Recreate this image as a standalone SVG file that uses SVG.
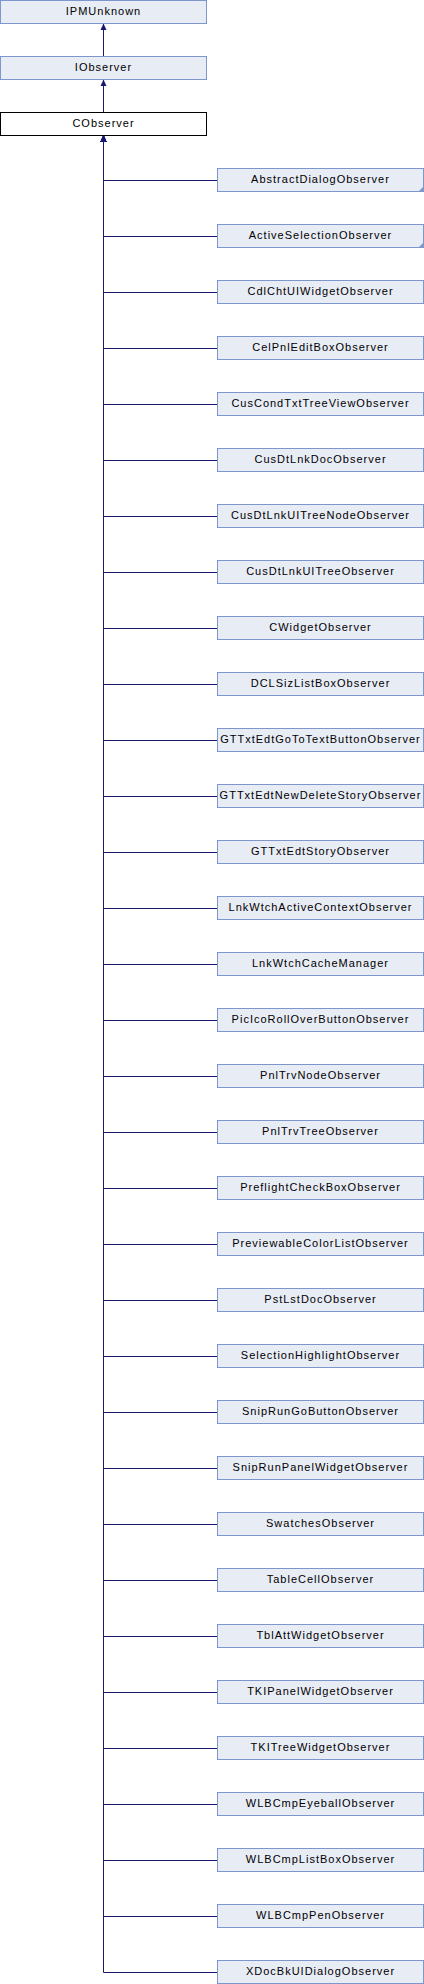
<svg xmlns="http://www.w3.org/2000/svg" width="424" height="1984" viewBox="0 0 424 1984">
<style>
.n rect{fill:#e8ecf5;stroke:#7d96cc;stroke-width:1}
.cur rect{fill:#ffffff;stroke:#000000;stroke-width:1}
text{font-family:"Liberation Sans",Arial,sans-serif;font-size:11px;letter-spacing:1px;fill:#000000;text-anchor:middle}
.e path{fill:none;stroke:#191970;stroke-width:1;marker-end:url(#ah)}
.cm{fill:#7d96cc;stroke:none}
</style>
<defs>
<marker id="ah" markerUnits="userSpaceOnUse" markerWidth="7" markerHeight="7" viewBox="0 0 7 7" refX="6.5" refY="3.5" orient="auto">
<path d="M0,0.5 L6.5,3.5 L0,6.5 z" fill="#191970"/>
</marker>
</defs>
<g id="connectors" class="e">
<path d="M103.5,56.5 V23.5"/>
<path d="M103.5,112.5 V79.5"/>
<path d="M217.5,180.5 H103.5 V135.5"/>
<path d="M217.5,236.5 H103.5 V135.5"/>
<path d="M217.5,292.5 H103.5 V135.5"/>
<path d="M217.5,348.5 H103.5 V135.5"/>
<path d="M217.5,404.5 H103.5 V135.5"/>
<path d="M217.5,460.5 H103.5 V135.5"/>
<path d="M217.5,516.5 H103.5 V135.5"/>
<path d="M217.5,572.5 H103.5 V135.5"/>
<path d="M217.5,628.5 H103.5 V135.5"/>
<path d="M217.5,684.5 H103.5 V135.5"/>
<path d="M217.5,740.5 H103.5 V135.5"/>
<path d="M217.5,796.5 H103.5 V135.5"/>
<path d="M217.5,852.5 H103.5 V135.5"/>
<path d="M217.5,908.5 H103.5 V135.5"/>
<path d="M217.5,964.5 H103.5 V135.5"/>
<path d="M217.5,1020.5 H103.5 V135.5"/>
<path d="M217.5,1076.5 H103.5 V135.5"/>
<path d="M217.5,1132.5 H103.5 V135.5"/>
<path d="M217.5,1188.5 H103.5 V135.5"/>
<path d="M217.5,1244.5 H103.5 V135.5"/>
<path d="M217.5,1300.5 H103.5 V135.5"/>
<path d="M217.5,1356.5 H103.5 V135.5"/>
<path d="M217.5,1412.5 H103.5 V135.5"/>
<path d="M217.5,1468.5 H103.5 V135.5"/>
<path d="M217.5,1524.5 H103.5 V135.5"/>
<path d="M217.5,1580.5 H103.5 V135.5"/>
<path d="M217.5,1636.5 H103.5 V135.5"/>
<path d="M217.5,1692.5 H103.5 V135.5"/>
<path d="M217.5,1748.5 H103.5 V135.5"/>
<path d="M217.5,1804.5 H103.5 V135.5"/>
<path d="M217.5,1860.5 H103.5 V135.5"/>
<path d="M217.5,1916.5 H103.5 V135.5"/>
<path d="M217.5,1972.5 H103.5 V135.5"/>
</g>
<g id="IPMUnknown" class="n"><rect x="0.5" y="0.5" width="206" height="23"/><text x="103.5" y="15">IPMUnknown</text></g>
<g id="IObserver" class="n"><rect x="0.5" y="56.5" width="206" height="23"/><text x="103.5" y="71">IObserver</text></g>
<g id="CObserver" class="cur"><rect x="0.5" y="112.5" width="206" height="23"/><text x="103.5" y="127">CObserver</text></g>
<g id="AbstractDialogObserver" class="n"><rect x="217.5" y="168.5" width="206" height="23"/><path class="cm" d="M424,186 V192 H418 z"/><text x="320.5" y="183">AbstractDialogObserver</text></g>
<g id="ActiveSelectionObserver" class="n"><rect x="217.5" y="224.5" width="206" height="23"/><path class="cm" d="M424,242 V248 H418 z"/><text x="320.5" y="239">ActiveSelectionObserver</text></g>
<g id="CdlChtUIWidgetObserver" class="n"><rect x="217.5" y="280.5" width="206" height="23"/><text x="320.5" y="295">CdlChtUIWidgetObserver</text></g>
<g id="CelPnlEditBoxObserver" class="n"><rect x="217.5" y="336.5" width="206" height="23"/><text x="320.5" y="351">CelPnlEditBoxObserver</text></g>
<g id="CusCondTxtTreeViewObserver" class="n"><rect x="217.5" y="392.5" width="206" height="23"/><text x="320.5" y="407">CusCondTxtTreeViewObserver</text></g>
<g id="CusDtLnkDocObserver" class="n"><rect x="217.5" y="448.5" width="206" height="23"/><text x="320.5" y="463">CusDtLnkDocObserver</text></g>
<g id="CusDtLnkUITreeNodeObserver" class="n"><rect x="217.5" y="504.5" width="206" height="23"/><text x="320.5" y="519">CusDtLnkUITreeNodeObserver</text></g>
<g id="CusDtLnkUITreeObserver" class="n"><rect x="217.5" y="560.5" width="206" height="23"/><text x="320.5" y="575">CusDtLnkUITreeObserver</text></g>
<g id="CWidgetObserver" class="n"><rect x="217.5" y="616.5" width="206" height="23"/><text x="320.5" y="631">CWidgetObserver</text></g>
<g id="DCLSizListBoxObserver" class="n"><rect x="217.5" y="672.5" width="206" height="23"/><text x="320.5" y="687">DCLSizListBoxObserver</text></g>
<g id="GTTxtEdtGoToTextButtonObserver" class="n"><rect x="217.5" y="728.5" width="206" height="23"/><text x="320.5" y="743">GTTxtEdtGoToTextButtonObserver</text></g>
<g id="GTTxtEdtNewDeleteStoryObserver" class="n"><rect x="217.5" y="784.5" width="206" height="23"/><text x="320.5" y="799">GTTxtEdtNewDeleteStoryObserver</text></g>
<g id="GTTxtEdtStoryObserver" class="n"><rect x="217.5" y="840.5" width="206" height="23"/><text x="320.5" y="855">GTTxtEdtStoryObserver</text></g>
<g id="LnkWtchActiveContextObserver" class="n"><rect x="217.5" y="896.5" width="206" height="23"/><text x="320.5" y="911">LnkWtchActiveContextObserver</text></g>
<g id="LnkWtchCacheManager" class="n"><rect x="217.5" y="952.5" width="206" height="23"/><text x="320.5" y="967">LnkWtchCacheManager</text></g>
<g id="PicIcoRollOverButtonObserver" class="n"><rect x="217.5" y="1008.5" width="206" height="23"/><text x="320.5" y="1023">PicIcoRollOverButtonObserver</text></g>
<g id="PnlTrvNodeObserver" class="n"><rect x="217.5" y="1064.5" width="206" height="23"/><text x="320.5" y="1079">PnlTrvNodeObserver</text></g>
<g id="PnlTrvTreeObserver" class="n"><rect x="217.5" y="1120.5" width="206" height="23"/><text x="320.5" y="1135">PnlTrvTreeObserver</text></g>
<g id="PreflightCheckBoxObserver" class="n"><rect x="217.5" y="1176.5" width="206" height="23"/><text x="320.5" y="1191">PreflightCheckBoxObserver</text></g>
<g id="PreviewableColorListObserver" class="n"><rect x="217.5" y="1232.5" width="206" height="23"/><text x="320.5" y="1247">PreviewableColorListObserver</text></g>
<g id="PstLstDocObserver" class="n"><rect x="217.5" y="1288.5" width="206" height="23"/><text x="320.5" y="1303">PstLstDocObserver</text></g>
<g id="SelectionHighlightObserver" class="n"><rect x="217.5" y="1344.5" width="206" height="23"/><text x="320.5" y="1359">SelectionHighlightObserver</text></g>
<g id="SnipRunGoButtonObserver" class="n"><rect x="217.5" y="1400.5" width="206" height="23"/><text x="320.5" y="1415">SnipRunGoButtonObserver</text></g>
<g id="SnipRunPanelWidgetObserver" class="n"><rect x="217.5" y="1456.5" width="206" height="23"/><text x="320.5" y="1471">SnipRunPanelWidgetObserver</text></g>
<g id="SwatchesObserver" class="n"><rect x="217.5" y="1512.5" width="206" height="23"/><text x="320.5" y="1527">SwatchesObserver</text></g>
<g id="TableCellObserver" class="n"><rect x="217.5" y="1568.5" width="206" height="23"/><text x="320.5" y="1583">TableCellObserver</text></g>
<g id="TblAttWidgetObserver" class="n"><rect x="217.5" y="1624.5" width="206" height="23"/><text x="320.5" y="1639">TblAttWidgetObserver</text></g>
<g id="TKIPanelWidgetObserver" class="n"><rect x="217.5" y="1680.5" width="206" height="23"/><text x="320.5" y="1695">TKIPanelWidgetObserver</text></g>
<g id="TKITreeWidgetObserver" class="n"><rect x="217.5" y="1736.5" width="206" height="23"/><text x="320.5" y="1751">TKITreeWidgetObserver</text></g>
<g id="WLBCmpEyeballObserver" class="n"><rect x="217.5" y="1792.5" width="206" height="23"/><text x="320.5" y="1807">WLBCmpEyeballObserver</text></g>
<g id="WLBCmpListBoxObserver" class="n"><rect x="217.5" y="1848.5" width="206" height="23"/><text x="320.5" y="1863">WLBCmpListBoxObserver</text></g>
<g id="WLBCmpPenObserver" class="n"><rect x="217.5" y="1904.5" width="206" height="23"/><text x="320.5" y="1919">WLBCmpPenObserver</text></g>
<g id="XDocBkUIDialogObserver" class="n"><rect x="217.5" y="1960.5" width="206" height="23"/><text x="320.5" y="1975">XDocBkUIDialogObserver</text></g>
</svg>
